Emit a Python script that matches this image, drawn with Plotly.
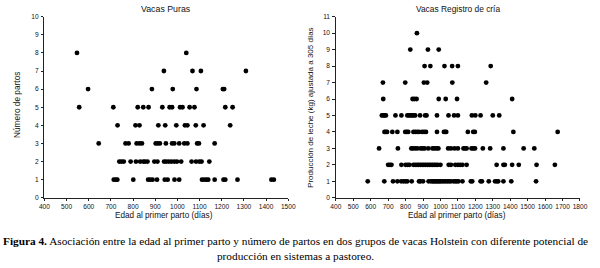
import plotly.graph_objects as go

# ---- Data: Vacas Puras (edad al primer parto, número de partos) ----
puras = {
    8: [547, 1040],
    7: [939, 1068, 1106, 1309],
    6: [597, 885, 979, 1086, 1205, 1211],
    5: [557, 711, 821, 846, 870, 932, 965, 976, 1012, 1023, 1055, 1077, 1216, 1249],
    4: [730, 811, 829, 914, 945, 995, 1034, 1045, 1083, 1118, 1238],
    3: [645, 766, 780, 816, 829, 840, 902, 911, 921, 948, 976, 986, 1008, 1031,
        1045, 1089, 1097, 1168],
    2: [738, 748, 758, 789, 813, 832, 846, 854, 865, 896, 910, 940, 949, 961, 973,
        986, 998, 1017, 1064, 1084, 1099, 1109, 1144],
    1: [713, 722, 729, 801, 868, 877, 888, 908, 943, 956, 987, 1008, 1111, 1121,
        1131, 1139, 1168, 1208, 1216, 1271, 1424, 1435],
}

# ---- Data: Vacas Registro de cría ----
registro = {
    10: [865],
    9: [827, 928, 990],
    8: [909, 942, 1023, 1067, 1100, 1288],
    7: [670, 798, 905, 924, 1068, 1262],
    6: [672, 840, 850, 863, 990, 1030, 1095, 1411],
    5: [664, 672, 680, 687, 742, 776, 810, 818, 828, 837, 846, 855, 883, 912, 920,
        980, 1046, 1078, 1100, 1180, 1200, 1230, 1300, 1337],
    4: [679, 686, 694, 724, 753, 798, 807, 815, 845, 855, 866, 877, 895, 906, 917,
        980, 1020, 1027, 1033, 1157, 1188, 1197, 1418, 1672],
    3: [648, 756, 833, 842, 855, 868, 887, 898, 909, 930, 954, 965, 978, 988, 1044,
        1060, 1081, 1100, 1132, 1141, 1150, 1178, 1188, 1198, 1243, 1285, 1361,
        1477, 1538],
    2: [700, 710, 719, 776, 800, 812, 822, 845, 855, 866, 875, 885, 895, 905, 915,
        925, 935, 945, 955, 965, 975, 985, 1000, 1047, 1060, 1085, 1100, 1113, 1126,
        1150, 1322, 1361, 1369, 1411, 1449, 1551, 1656],
    1: [583, 678, 728, 753, 775, 788, 800, 810, 835, 877, 885, 900, 932, 945, 955,
        962, 970, 978, 985, 993, 1000, 1010, 1020, 1030, 1040, 1050, 1060, 1075,
        1085, 1094, 1103, 1126, 1174, 1182, 1230, 1238, 1277, 1313, 1324, 1331,
        1361, 1406, 1548],
}

x_ticks_left = list(range(400, 1501, 100))
x_ticks_right = list(range(400, 1801, 100))
y_ticks_left = list(range(0, 11))
y_ticks_right = list(range(0, 12))

title_left = "Vacas Puras"
title_right = "Vacas Registro de cría"
ytitle_left = "Número de partos"
ytitle_right = "Producción de leche (kg) ajustada a 305 días"
xtitle = "Edad al primer parto (días)"
caption = ("<b>Figura 4.</b> Asociación entre la edad al primer parto y número de partos "
           "en dos grupos de vacas Holstein con diferente potencial de<br>"
           "producción en sistemas a pastoreo.")


def flatten(d):
    xs, ys = [], []
    for k, vals in d.items():
        for v in vals:
            xs.append(v)
            ys.append(k)
    return xs, ys


W, H = 600, 268
fig = go.Figure()
xl, yl = flatten(puras)
xr, yr = flatten(registro)
marker = dict(color="black", size=4.8, line=dict(width=0))
fig.add_trace(go.Scatter(x=xl, y=yl, mode="markers", marker=marker,
                         xaxis="x", yaxis="y", showlegend=False, cliponaxis=False))
fig.add_trace(go.Scatter(x=xr, y=yr, mode="markers", marker=marker,
                         xaxis="x2", yaxis="y2", showlegend=False, cliponaxis=False))

sans = "Liberation Sans, Arial, sans-serif"
tickfont = dict(family=sans, size=6.6, color="#111")
ax_common = dict(showline=True, linecolor="#222", linewidth=1, ticks="outside",
                 ticklen=2.5, tickwidth=1, tickcolor="#222", showgrid=False,
                 zeroline=False, tickfont=tickfont, fixedrange=True)

top_px, bot_px = 13, 199
ydom = [(H - bot_px) / H, (H - top_px) / H]

fig.update_layout(
    width=W, height=H,
    margin=dict(l=0, r=0, t=0, b=0),
    paper_bgcolor="white", plot_bgcolor="white",
    xaxis=dict(domain=[39.3 / W, 289 / W], range=[400, 1500], tickvals=x_ticks_left,
               anchor="y", ticklabelstandoff=0, **ax_common),
    yaxis=dict(domain=ydom, range=[0, 10], tickvals=y_ticks_left, anchor="x",
               ticklabelstandoff=1, **ax_common),
    xaxis2=dict(domain=[337.7 / W, 587.7 / W], range=[400, 1800], tickvals=x_ticks_right,
                anchor="y2", ticklabelstandoff=0, **ax_common),
    yaxis2=dict(domain=ydom, range=[0, 11], tickvals=y_ticks_right, anchor="x2",
                ticklabelstandoff=1, **ax_common),
)

ann = []
ann.append(dict(text=title_left, x=164 / W, y=1 - 5.5 / H, xref="paper", yref="paper",
                showarrow=False, font=dict(family=sans, size=8.8, color="#111"),
                xanchor="center", yanchor="middle"))
ann.append(dict(text=title_right, x=463 / W, y=1 - 5.5 / H, xref="paper", yref="paper",
                showarrow=False, font=dict(family=sans, size=8.4, color="#111"),
                xanchor="center", yanchor="middle"))
ann.append(dict(text=xtitle, x=162 / W, y=1 - 217.5 / H, xref="paper", yref="paper",
                showarrow=False, font=dict(family=sans, size=8.2, color="#111"),
                xanchor="center", yanchor="middle"))
ann.append(dict(text=xtitle, x=462 / W, y=1 - 217.5 / H, xref="paper", yref="paper",
                showarrow=False, font=dict(family=sans, size=8.2, color="#111"),
                xanchor="center", yanchor="middle"))
ann.append(dict(text=ytitle_left, x=12 / W, y=1 - 104 / H, xref="paper", yref="paper",
                showarrow=False, textangle=-90, font=dict(family=sans, size=8.3, color="#111"),
                xanchor="center", yanchor="middle"))
ann.append(dict(text=ytitle_right, x=312 / W, y=1 - 106 / H, xref="paper", yref="paper",
                showarrow=False, textangle=-90, font=dict(family=sans, size=8.0, color="#111"),
                xanchor="center", yanchor="middle"))
ann.append(dict(text=caption, x=296 / W, y=1 - 251.5 / H, xref="paper", yref="paper",
                showarrow=False, align="center",
                font=dict(family="Liberation Serif, Times New Roman, serif", size=11.3,
                          color="black"),
                xanchor="center", yanchor="middle"))
fig.update_layout(annotations=ann)

fig.write_html("out.html")
